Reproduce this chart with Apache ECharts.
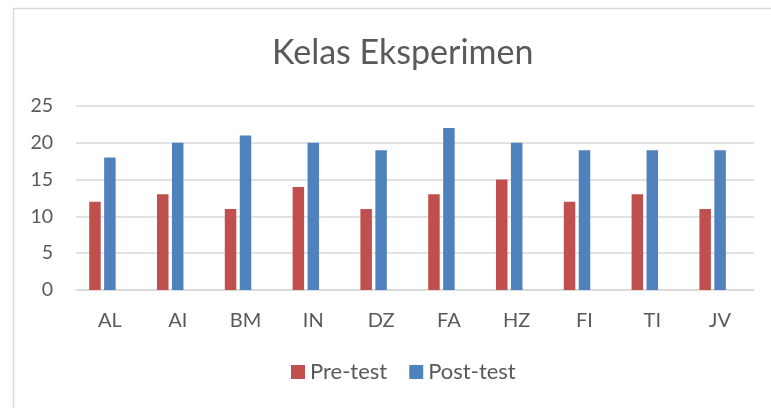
<!DOCTYPE html>
<html>
<head>
<meta charset="utf-8">
<script src="https://cdn.jsdelivr.net/npm/echarts@6/dist/echarts.min.js"></script>
<style>html,body{margin:0;padding:0;background:#fff;}#c{width:771px;height:408px;}</style>
</head>
<body>
<div id="c"></div>
<script>
const titleText = 'Kelas Eksperimen';
const categories = ['AL', 'AI', 'BM', 'IN', 'DZ', 'FA', 'HZ', 'FI', 'TI', 'JV'];
const preTest = [12, 13, 11, 14, 11, 13, 15, 12, 13, 11];
const postTest = [18, 20, 21, 20, 19, 22, 20, 19, 19, 19];
const emptySeries = categories.map(() => '-');
const yTicks = { min: 0, max: 25, interval: 5 };

const chart = echarts.init(document.getElementById('c'), null, { renderer: 'canvas' });
const txt = '#595959';
chart.setOption({
  animation: false,
  backgroundColor: '#fff',
  graphic: [{
    type: 'rect', left: 11, top: 6, z: -1,
    shape: { width: 800, height: 450 },
    style: { fill: 'none', stroke: '#d9d9d9', lineWidth: 1.5 }
  }],
  title: {
    text: titleText, left: 267, top: 31,
    textStyle: { fontFamily: 'Lato', fontWeight: 'normal', fontSize: 34, color: txt }
  },
  legend: {
    data: ['Pre-test', 'Post-test'], bottom: 20, left: 286,
    icon: 'rect', itemWidth: 14, itemHeight: 14, itemGap: 22,
    textStyle: { fontFamily: 'Lato', fontSize: 22, color: txt }
  },
  grid: { left: 76, right: 17, top: 106, bottom: 118, containLabel: false },
  xAxis: {
    type: 'category', data: categories,
    axisLine: { lineStyle: { color: '#d9d9d9', width: 1.5 } },
    axisTick: { show: false },
    axisLabel: { fontFamily: 'Lato', fontSize: 20, color: txt, margin: 21 }
  },
  yAxis: {
    type: 'value', min: yTicks.min, max: yTicks.max, interval: yTicks.interval,
    axisLine: { show: false }, axisTick: { show: false },
    splitLine: { lineStyle: { color: '#d9d9d9', width: 1.5 } },
    axisLabel: { fontFamily: 'Lato', fontSize: 19.5, color: txt, margin: 23 }
  },
  series: [
    { name: 'Pre-test', type: 'bar', data: preTest, barWidth: 11.5, barGap: '30%',
      itemStyle: { color: '#C0504D' } },
    { name: 'Post-test', type: 'bar', data: postTest, barWidth: 11.5, barGap: '30%',
      itemStyle: { color: '#4F81BD' } },
    { name: 'hidden', type: 'bar', data: emptySeries, barWidth: 11.5, barGap: '30%',
      itemStyle: { color: 'transparent' } }
  ]
});
</script>
</body>
</html>
